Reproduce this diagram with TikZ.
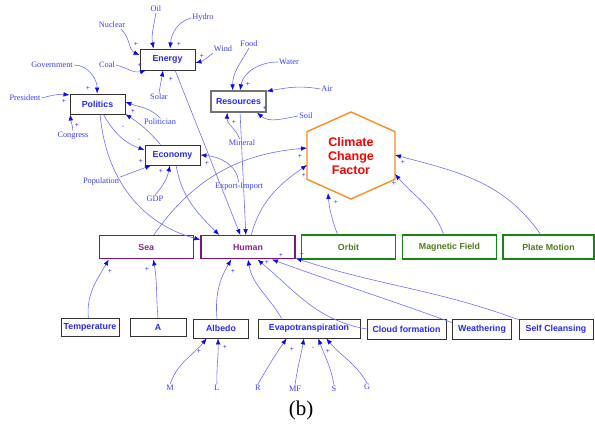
\documentclass[tikz,border=0pt]{standalone}
\usepackage{fontspec}
\setmainfont{Liberation Serif}
\setsansfont{Liberation Sans}
\usetikzlibrary{arrows.meta}
\definecolor{linec}{RGB}{110,110,255}
\definecolor{arrowc}{RGB}{10,10,240}
\definecolor{labc}{RGB}{60,60,255}
\definecolor{boxtext}{RGB}{40,40,255}
\definecolor{purp}{RGB}{128,20,128}
\definecolor{purptext}{RGB}{140,40,140}
\definecolor{grn}{RGB}{20,135,20}
\definecolor{grntext}{RGB}{80,125,30}
\definecolor{orng}{RGB}{255,140,30}
\tikzset{
  x=1pt,y=1pt,
  lab/.style={text=labc, font=\fontsize{8.3}{9}\selectfont, inner sep=1pt},
  sgn/.style={text=labc, font=\sffamily\fontsize{7}{8}\selectfont, inner sep=0pt},
  bbox/.style={draw=black!80, line width=0.9pt, fill=white, text=boxtext,
    font=\sffamily\bfseries\fontsize{8.8}{10}\selectfont, inner sep=0pt},
  gbox/.style={bbox, draw=black!55, line width=1.3pt},
  pbox/.style={bbox, draw=purp, line width=1.4pt, text=purptext},
  grbox/.style={bbox, draw=grn, line width=1.4pt, text=grntext},
  conn/.style={draw=linec, line width=0.6pt, -{Latex[length=6pt,width=4.6pt,color=arrowc]}},
}
\begin{document}
\begin{tikzpicture}
\useasboundingbox (0,0) rectangle (595,427);
% ---------- boxes ----------
\node[bbox, minimum width=55, minimum height=21] (Energy) at (167.5,367.5) {Energy};
\node[bbox, minimum width=55, minimum height=20] (Politics) at (97.5,323) {Politics};
\node[gbox, minimum width=55, minimum height=21] (Resources) at (238.5,325.5) {Resources};
\node[bbox, minimum width=55, minimum height=20] (Economy) at (172.5,272) {Economy};
\node[pbox, minimum width=94, minimum height=23] (Sea) at (146.3,179.7) {Sea};
\node[pbox, minimum width=94, minimum height=23] (Human) at (248,179.7) {Human};
\node[grbox, minimum width=94, minimum height=24] (Orbit) at (348.5,180) {Orbit};
\node[grbox, minimum width=94, minimum height=24] (Mag) at (449.5,180) {Magnetic Field};
\node[grbox, minimum width=91, minimum height=24] (Plate) at (548.5,180) {Plate Motion};
\node[bbox, minimum width=58, minimum height=18] (Temp) at (90,99.5) {Temperature};
\node[bbox, minimum width=56, minimum height=18] (A) at (158,99.5) {A};
\node[bbox, minimum width=55, minimum height=19] (Albedo) at (221,98.5) {Albedo};
\node[bbox, minimum width=102, minimum height=19] (Evapo) at (309,98.5) {Evapotranspiration};
\node[bbox, minimum width=79, minimum height=20] (Cloud) at (406.5,98) {Cloud formation};
\node[bbox, minimum width=59, minimum height=20] (Weath) at (482,98) {Weathering};
\node[bbox, minimum width=74, minimum height=20] (Self) at (556,98) {Self Cleansing};
% ---------- hexagon ----------
\draw[orng, line width=1.4pt, line join=miter] (351,315) -- (395,295.3) -- (395,247.7) -- (351,228) -- (307,247.7) -- (307,295.3) -- cycle;
\node[text=red, font=\sffamily\bfseries\fontsize{12.5}{14}\selectfont, align=center, inner sep=0pt] (ccf) at (351,271) {Climate\\Change\\Factor};
\coordinate (ccfA) at (307,279);
\coordinate (ccfB) at (307,262);
\coordinate (ccfC) at (328,234);
\coordinate (ccfD) at (395,253);
\coordinate (ccfE) at (395,272);
% ---------- labels ----------
\node[lab] (Nuclear) at (112,402) {Nuclear};
\node[lab] (Oil) at (156,418) {Oil};
\node[lab] (Hydro) at (203,409) {Hydro};
\node[lab] (Wind) at (223,378) {Wind};
\node[lab] (Food) at (249,383) {Food};
\node[lab] (Water) at (289,365) {Water};
\node[lab] (Coal) at (107,362) {Coal};
\node[lab] (Gov) at (52,362) {Government};
\node[lab] (Pres) at (25,329) {President};
\node[lab] (Solar) at (159,330) {Solar};
\node[lab] (Polit) at (160,305) {Politician};
\node[lab] (Congress) at (73,291) {Congress};
\node[lab] (Mineral) at (242,284) {Mineral};
\node[lab] (Air) at (327,338) {Air};
\node[lab] (Soil) at (306,311) {Soil};
\node[lab] (Pop) at (101,245) {Population};
\node[lab] (GDP) at (155,228) {GDP};
\node[lab] (Exp) at (239,240) {Export-Import};
\node[lab] (M) at (170,39) {M};
\node[lab] (L) at (217,39) {L};
\node[lab] (R) at (258,39) {R};
\node[lab] (MF) at (295,38) {MF};
\node[lab] (S) at (334,38) {S};
\node[lab] (G) at (367,40) {G};
\node[font=\fontsize{21}{24}\selectfont, inner sep=0pt] (cap) at (301,17) {(b)};
% ---------- connectors ----------
\draw[conn] (Nuclear.-25) to[out=-40,in=155] (Energy.171);
\draw[conn] (Oil.south) to[out=-100,in=100] (Energy.142);
\draw[conn] (Hydro.west) to[out=195,in=85] (Energy.77);
\draw[conn] (Wind.south west) to[out=-140,in=15] (Energy.-7);
\draw[conn] (Coal.east) to[out=-15,in=195] (Energy.207);
\draw[conn] (Solar.north) to[out=80,in=-100] (Energy.248);
\draw[conn] (Energy.-55) -- (Human.122);
\draw[conn] (Gov.east) to[out=0,in=90] (Politics.92);
\draw[conn] (Pres.east) to[out=15,in=175] (Politics.162);
\draw[conn] (Congress.north) to[out=95,in=-85] (Politics.201);
\draw[conn] (Polit.north) to[out=135,in=-20] (Politics.4);
\draw[conn] (Politics.-61) to[out=-60,in=160] (Economy.170);
\draw[conn] (Economy.139) to[bend right=8] (Politics.-20);
\draw[conn] (Politics.-76) to[out=-85,in=165] (Human.171);
\draw[conn] (Pop.north east) -- (Economy.206);
\draw[conn] (GDP.north) to[bend right=15] (Economy.256);
\draw[conn] (Economy.-71) to[out=-80,in=135] (Human.157);
\draw[conn] (Exp.95) to[out=95,in=-5] (Economy.0);
\draw[conn] (Resources.-82) -- (Human.100);
\draw[conn] (Mineral.120) to[out=110,in=-95] (Resources.225);
\draw[conn] (Food.south) to[out=-120,in=90] (Resources.118);
\draw[conn] (Water.west) to[out=180,in=80] (Resources.82);
\draw[conn] (Air.west) to[out=170,in=10] (Resources.20);
\draw[conn] (Soil.west) to[out=190,in=-40] (Resources.-31);
\draw[conn] (Sea.59) to[out=55,in=185] (ccfA);
\draw[conn] (Human.75) to[out=75,in=215] (ccfB);
\draw[conn] (Orbit.131) to[out=110,in=-85] (ccfC);
\draw[conn] (Mag.115) to[out=110,in=-50] (ccfD);
\draw[conn] (Plate.122) to[out=125,in=-15] (ccfE);
\draw[conn] (Temp.100) to[out=95,in=-120] (Sea.198);
\draw[conn] (A.north) to[out=95,in=-80] (Sea.-60);
\draw[conn] (Albedo.112) to[out=95,in=-120] (Human.216);
\draw[conn] (Evapo.160) to[out=120,in=-80] (Human.270);
\draw[conn] (Cloud.180) to[out=170,in=-40] (Human.-52);
\draw[conn] (Weath.168) to[out=160,in=-20] (Human.-27);
\draw[conn] (Self.166) to[out=160,in=-18] (Human.-13);
\draw[conn] (M.north) to[out=70,in=-130] (Albedo.215);
\draw[conn] (L.north) to[out=92,in=-88] (Albedo.253);
\draw[conn] (R.north) to[out=60,in=-125] (Evapo.204);
\draw[conn] (MF.north) to[out=82,in=-100] (Evapo.243);
\draw[conn] (S.north) to[out=100,in=-70] (Evapo.-47);
\draw[conn] (G.north) to[out=120,in=-50] (Evapo.-30);
% ---------- signs ----------
\node[sgn] (s1) at (136,383) {+};
\node[sgn] (s2) at (179,383) {+};
\node[sgn] (s3) at (202,371) {+};
\node[sgn] (s4) at (140,362) {+};
\node[sgn] (s5) at (171,348) {+};
\node[sgn] (s6) at (88,339) {+};
\node[sgn] (s7) at (64,326) {+};
\node[sgn] (s8) at (77,302) {+};
\node[sgn] (s9) at (133,316) {+};
\node[sgn] (s10) at (123,300) {-};
\node[sgn] (s11) at (139,287) {-};
\node[sgn] (s12) at (248,343) {+};
\node[sgn] (s13) at (265,319) {+};
\node[sgn] (s14) at (234,305) {+};
\node[sgn] (s15) at (141,266) {+};
\node[sgn] (s16) at (161,256) {+};
\node[sgn] (s17) at (207,264) {+};
\node[sgn] (s18) at (300,271) {+};
\node[sgn] (s19) at (304,252) {+};
\node[sgn] (s20) at (336,225) {+};
\node[sgn] (s21) at (394,244) {+};
\node[sgn] (s22) at (403,265) {+};
\node[sgn] (s23) at (110,156) {+};
\node[sgn] (s24) at (147,158) {+};
\node[sgn] (s25) at (233,156) {+};
\node[sgn] (s26) at (267,165) {+};
\node[sgn] (s27) at (281,172) {+};
\node[sgn] (s28) at (302,173) {+};
\node[sgn] (s29) at (199,76) {+};
\node[sgn] (s30) at (225,80) {+};
\node[sgn] (s31) at (292,78) {+};
\node[sgn] (s32) at (313,79) {-};
\node[sgn] (s33) at (328,76) {+};
\end{tikzpicture}
\end{document}
